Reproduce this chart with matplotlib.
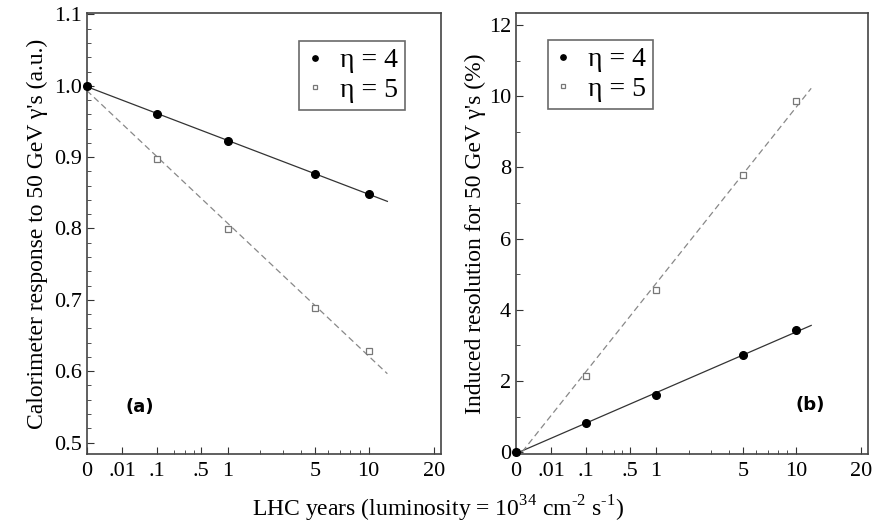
import numpy as np
import matplotlib.pyplot as plt
from matplotlib.ticker import FixedLocator, FixedFormatter, MultipleLocator, FormatStrFormatter

plt.rcParams['font.family'] = ['Liberation Serif', 'DejaVu Serif']
plt.rcParams['mathtext.fontset'] = 'custom'
plt.rcParams['mathtext.rm'] = 'Liberation Serif'

# Данные (LHC годы)
years = [0, 0.1, 1, 5, 10]

resp_eta4 = [1.0, 0.960, 0.923, 0.876, 0.849]
resp_eta5 = [1.0, 0.898, 0.799, 0.688, 0.629]

res_eta4 = [0.0, 0.81, 1.62, 2.72, 3.42]
res_eta5 = [0.0, 2.13, 4.55, 7.78, 9.86]

xticks = [0, 0.01, 0.1, 0.5, 1, 5, 10, 20]
xticklabels = ['0', '.01', '.1', '.5', '1', '5', '10', '20']
xminor = [0.2, 0.3, 0.4, 2, 3, 4, 6, 7, 8, 9]

# Шкала x ~ x^(log10 2)
p = np.log10(2)


def fwd(x):
    x = np.asarray(x, dtype=float)
    return np.sign(x) * np.abs(x) ** p


def inv(t):
    t = np.asarray(t, dtype=float)
    return np.sign(t) * np.abs(t) ** (1 / p)


def fit_line(x, y, xmax=12.4):
    c = np.polyfit(fwd(x), y, 1)
    xx = inv(np.linspace(0, fwd(xmax), 50))
    return xx, np.polyval(c, fwd(xx))


fig = plt.figure(figsize=(8.77, 5.30), dpi=100)
ax1 = fig.add_axes([0.0989, 0.1434, 0.404, 0.8321])
ax2 = fig.add_axes([0.5884, 0.1434, 0.4016, 0.8321])

for ax in (ax1, ax2):
    ax.set_xscale('function', functions=(fwd, inv))
    ax.set_xlim(0, 21.4)
    ax.xaxis.set_major_locator(FixedLocator(xticks))
    ax.xaxis.set_major_formatter(FixedFormatter(xticklabels))
    ax.xaxis.set_minor_locator(FixedLocator(xminor))
    ax.tick_params(which='both', direction='in', labelsize=16, color='#333333')
    ax.tick_params(which='major', length=5)
    ax.tick_params(which='minor', length=3)
    ax.tick_params(axis='x', pad=6)
    for s in ax.spines.values():
        s.set_color('#444444')
        s.set_linewidth(1.2)

# (a) отклик калориметра
x, y = fit_line(years, resp_eta4)
ax1.plot(x, y, '-', color='#333333', lw=0.9)
x, y = fit_line(years, resp_eta5)
ax1.plot(x, y, '--', color='#888888', lw=0.9, dashes=(5, 3))
ax1.plot(years, resp_eta5, 's', ms=5, mfc='white', mec='#777777', mew=0.9,
         ls='none', label='\u03b7 = 5', clip_on=False)
ax1.plot(years, resp_eta4, 'o', ms=5.5, color='black', ls='none',
         label='\u03b7 = 4', clip_on=False, zorder=5)
ax1.set_ylim(0.484, 1.102)
ax1.yaxis.set_major_locator(MultipleLocator(0.1))
ax1.yaxis.set_minor_locator(MultipleLocator(0.02))
ax1.yaxis.set_major_formatter(FormatStrFormatter('%.1f'))
ax1.set_ylabel("Calorimeter response to 50 GeV \u03b3's (a.u.)", fontsize=17, labelpad=4)
ax1.text(0.15, 0.107, '(a)', transform=ax1.transAxes, fontsize=13,
         fontweight='heavy', family='DejaVu Sans', ha='center', va='center')

# (b) разрешение
x, y = fit_line(years, res_eta4, 11.9)
ax2.plot(x, y, '-', color='#333333', lw=0.9)
x, y = fit_line(years, res_eta5, 11.9)
ax2.plot(x, y, '--', color='#888888', lw=0.9, dashes=(5, 3))
ax2.plot(years, res_eta5, 's', ms=5, mfc='white', mec='#777777', mew=0.9,
         ls='none', label='\u03b7 = 5', clip_on=False)
ax2.plot(years, res_eta4, 'o', ms=5.5, color='black', ls='none',
         label='\u03b7 = 4', clip_on=False, zorder=5)
ax2.set_ylim(-0.05, 12.34)
ax2.yaxis.set_major_locator(MultipleLocator(2))
ax2.yaxis.set_minor_locator(MultipleLocator(1))
ax2.set_ylabel("Induced resolution for 50 GeV \u03b3's (%)", fontsize=17, labelpad=2)
ax2.text(0.835, 0.11, '(b)', transform=ax2.transAxes, fontsize=13,
         fontweight='heavy', family='DejaVu Sans', ha='center', va='center')

for ax, loc in ((ax1, (0.60, 0.9365)), (ax2, (0.09, 0.939))):
    h, l = ax.get_legend_handles_labels()
    leg = ax.legend(h[::-1], l[::-1], loc='upper left', bbox_to_anchor=loc,
                    fontsize=20, frameon=True, fancybox=False, handlelength=0.6,
                    handletextpad=0.6, borderpad=0.25, labelspacing=0.15,
                    markerscale=0.7, borderaxespad=0)
    leg.get_frame().set_edgecolor('#444444')
    leg.get_frame().set_linewidth(1.2)

fig.text(0.5, 0.04, 'LHC years (luminosity = 10$^{34}$ cm$^{\u20102}$ s$^{\u20101}$)',
         ha='center', va='center', fontsize=17)

fig.savefig('out.png', dpi=100)
